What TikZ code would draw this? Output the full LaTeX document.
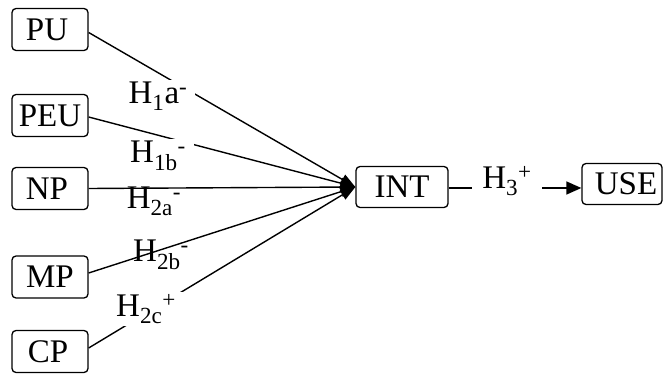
\documentclass[tikz,border=0pt]{standalone}
\usepackage{fontspec}
\setmainfont{Liberation Serif}
\usetikzlibrary{arrows.meta}
\tikzset{
  box/.style={draw, rounded corners=4pt, line width=1.3pt, minimum width=76pt, minimum height=42pt, inner sep=0pt, font=\fontsize{33}{39}\selectfont},
  lab/.style={font=\fontsize{33}{39}\selectfont, inner xsep=8pt, inner ysep=2pt},
  labw/.style={lab, fill=white},
  conn/.style={line width=1.4pt, -{Triangle[length=15pt,width=11pt]}}
}
\begin{document}
\begin{tikzpicture}[x=1pt,y=-1pt]
\useasboundingbox (0,0) rectangle (667,374);
\node[box] (pu) at (50,29.5) {PU\hspace*{6pt}};
\node[box] (peu) at (50,115.5) {PEU};
\node[box] (np) at (50,188.5) {NP\hspace*{6pt}};
\node[box] (mp) at (50,277) {MP};
\node[box] (cp) at (50,351.5) {CP\hspace*{4pt}};
\node[box, minimum width=92pt, minimum height=41pt] (int) at (402,187) {INT};
\node[box, minimum width=80pt, minimum height=41pt] (use) at (622,184) {\hspace*{8pt}USE};
% labels drawn under the lines
\node[lab] (h2a) at (154,201) {H\textsubscript{2a}\textsuperscript{-}};
\node[lab] (h2b) at (161,255) {H\textsubscript{2b}\textsuperscript{-}};
% connectors
\draw[conn] ([yshift=-3pt]pu.east) -- (int.west);
\draw[conn] ([yshift=-1.5pt]peu.east) -- (int.west);
\draw[conn] (np.east) -- (int.west);
\draw[conn] ([yshift=4pt]mp.east) -- (int.west);
\draw[conn] ([yshift=3.5pt]cp.east) -- (int.west);
\draw[conn, -{Triangle[length=15pt,width=13pt]}] ([yshift=-1pt]int.east) -- ([yshift=-1pt]int.east -| use.west);
% labels drawn over the lines
\node[labw] (h1a) at (158,96) {H\textsubscript{1}a\textsuperscript{-}};
\node[labw] (h1b) at (158,156) {H\textsubscript{1b}\textsuperscript{-}};
\node[labw] (h2c) at (146,309) {H\textsubscript{2c}\textsuperscript{+}};
\node[labw, inner xsep=10pt] (h3) at (507,181) {H\textsubscript{3}\textsuperscript{+}};
\end{tikzpicture}
\end{document}
